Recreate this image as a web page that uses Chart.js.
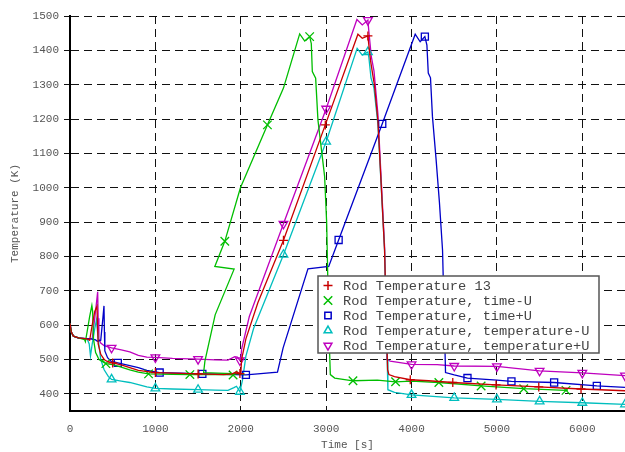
<!DOCTYPE html>
<html>
<head>
<meta charset="utf-8">
<script src="https://cdn.jsdelivr.net/npm/chart.js@4.4.1/dist/chart.umd.min.js"></script>
<style>
  html, body { margin: 0; padding: 0; background: #fff; }
  #rod-chart { display: block; }
</style>
</head>
<body>
<canvas id="rod-chart" width="625" height="452"></canvas>
<script>
// Rod temperature histories [time (s), temperature (K)]
var rodT13 = [
  [0,605],[15,580],[40,568],[100,563],[200,560],[230,556],[260,600],[290,640],[316,655],[322,600],
  [330,545],[360,515],[400,500],[430,495],[500,490],[600,484],[700,476],[800,468],[1000,462],[1200,460],
  [1500,458],[1800,456],[1900,458],[1950,464],[1990,459],[2000,458],[2010,500],[2060,560],[2200,665],[2500,847],
  [2990,1183],[3372,1447],[3423,1435],[3489,1442],[3500,1415],[3520,1370],[3545,1330],[3565,1300],[3606,1195],[3684,819],
  [3710,560],[3720,470],[3735,456],[3800,450],[3985,441],[4200,438],[4483,433],[4990,426],[5490,420],[5985,414],[6500,409]
];
var rodT13Marks = [500,1000,1500,1990,2500,2990,3489,3985,4483,4990,5490,5985];

var timeMinus = [
  [0,605],[15,580],[40,568],[100,563],[170,558],[180,552],[200,580],[230,625],[256,657],[265,640],
  [275,560],[300,520],[340,500],[420,488],[500,485],[600,478],[700,470],[800,463],[920,458],[1200,457],
  [1404,456],[1700,456],[1850,457],[1910,455],[1960,460],[1990,458],[1565,462],[1580,495],[1700,630],[1922,763],
  [1696,771],[1813,844],[1996,1000],[2312,1183],[2500,1290],[2690,1448],[2749,1427],[2807,1440],[2826,1420],[2838,1338],
  [2877,1319],[2904,1197],[2982,1033],[3006,898],[3030,600],[3049,456],[3100,446],[3314,438],[3600,440],[3813,435],
  [4000,437],[4320,433],[4815,423],[5314,415],[5809,410],[5830,410]
];
var timeMinusMarks = [420,920,1404,1910,1813,2312,2807,3314,3813,4320,4815,5314,5809];

var timePlus = [
  [0,605],[15,580],[40,568],[100,562],[250,560],[300,557],[320,553],[360,556],[385,620],[398,656],
  [403,580],[408,525],[440,505],[480,495],[560,490],[700,482],[800,476],[900,468],[1050,462],[1300,460],
  [1550,458],[1800,457],[2060,455],[2200,458],[2430,463],[2496,534],[2787,764],[3030,771],[3146,848],[3657,1186],
  [4043,1447],[4101,1425],[4156,1440],[4180,1415],[4196,1334],[4222,1320],[4245,1207],[4288,1081],[4327,956],[4363,819],
  [4385,600],[4398,462],[4500,455],[4655,446],[5000,440],[5170,436],[5670,433],[6170,423],[6500,419]
];
var timePlusMarks = [560,1050,1550,2060,3146,3657,4156,4655,5170,5670,6170];

var tempMinus = [
  [0,605],[15,580],[40,568],[100,563],[200,560],[225,545],[240,510],[260,545],[290,590],[310,615],
  [330,560],[360,500],[400,470],[450,450],[487,442],[600,437],[700,433],[800,427],[900,420],[1000,416],
  [1200,414],[1500,412],[1700,411],[1850,410],[1920,418],[1950,422],[1990,406],[2020,440],[2060,510],[2150,590],
  [2500,805],[3000,1134],[3363,1406],[3423,1386],[3489,1395],[3500,1380],[3525,1320],[3560,1290],[3606,1185],[3684,819],
  [3715,500],[3723,412],[3800,404],[4000,397],[4500,388],[5000,384],[5500,378],[6000,374],[6500,369]
];
var tempMinusMarks = [487,1000,1500,1990,2500,3000,3489,4000,4500,5000,5500,6000,6500];

var tempPlus = [
  [0,605],[15,580],[40,568],[100,563],[200,560],[260,560],[290,620],[310,665],[324,697],[330,620],
  [338,560],[360,548],[400,540],[487,534],[600,528],[700,522],[800,512],[900,507],[1000,506],[1200,503],
  [1500,501],[1700,499],[1850,498],[1930,508],[1960,507],[1990,497],[2000,500],[2010,530],[2100,625],[2500,895],
  [3000,1230],[3360,1490],[3423,1474],[3489,1488],[3500,1455],[3530,1380],[3560,1340],[3606,1215],[3684,830],[3705,600],
  [3711,500],[3750,495],[4000,486],[4300,485],[4500,481],[5000,480],[5500,467],[6000,461],[6500,453]
];
var tempPlusMarks = [487,1000,1500,1990,2500,3000,3489,4000,4500,5000,5500,6000,6500];

var seriesLabels = [
  'Rod Temperature 13',
  'Rod Temperature, time-U',
  'Rod Temperature, time+U',
  'Rod Temperature, temperature-U',
  'Rod Temperature, temperature+U'
];

var xTicks = [0, 1000, 2000, 3000, 4000, 5000, 6000];
var yTicks = [400, 500, 600, 700, 800, 900, 1000, 1100, 1200, 1300, 1400, 1500];

var monoFont = '"Liberation Mono", "DejaVu Sans Mono", monospace';

function makeSeries(label, points, marks, color, style, radius, rotation)
{
  return {
    label: label,
    data: points.map(function (p) { return {x: p[0], y: p[1]}; }),
    borderColor: color,
    borderWidth: 1.3,
    pointStyle: style,
    pointRotation: rotation || 0,
    pointBorderColor: color,
    pointBackgroundColor: 'rgba(0,0,0,0)',
    pointBorderWidth: 1.3,
    pointRadius: function (ctx) {
      if (!ctx.raw) return 0;
      return marks.indexOf(ctx.raw.x) >= 0 ? radius : 0;
    },
    tension: 0,
    fill: false
  };
}

function plainNumber(value)
{
  return String(value);
}

// legend drawn as a framed box inside the plot
var boxLegend = {
  id: 'boxLegend',
  afterDraw: function (chart) {
    var ctx = chart.ctx;
    var left = 318, top = 276, w = 281, h = 77;
    ctx.save();
    ctx.fillStyle = '#fff';
    ctx.fillRect(left, top, w, h);
    ctx.strokeStyle = '#555';
    ctx.lineWidth = 1.5;
    ctx.strokeRect(left, top, w, h);
    ctx.font = '13.7px ' + monoFont;
    ctx.textBaseline = 'middle';
    chart.data.datasets.forEach(function (ds, i) {
      var cy = top + 9.5 + i * 15;
      ctx.strokeStyle = ds.borderColor;
      ctx.fillStyle = 'rgba(0,0,0,0)';
      ctx.lineWidth = 1.5;
      Chart.helpers.drawPoint(ctx, {
        pointStyle: ds.pointStyle,
        radius: ds.pointStyle === 'crossRot' ? 6 : 4.5,
        rotation: ds.pointRotation,
        borderWidth: 1.5
      }, left + 10, cy);
      ctx.fillStyle = '#444';
      ctx.fillText(ds.label, left + 25, cy + 1);
    });
    ctx.restore();
  }
};

var rodChart = new Chart(document.getElementById('rod-chart'), {
  type: 'line',
  data: {
    datasets: [
      makeSeries(seriesLabels[0], rodT13, rodT13Marks, '#c80000', 'cross', 4.5),
      makeSeries(seriesLabels[1], timeMinus, timeMinusMarks, '#00be00', 'crossRot', 6),
      makeSeries(seriesLabels[2], timePlus, timePlusMarks, '#0000c8', 'rect', 5),
      makeSeries(seriesLabels[3], tempMinus, tempMinusMarks, '#00bebe', 'triangle', 5),
      makeSeries(seriesLabels[4], tempPlus, tempPlusMarks, '#be00be', 'triangle', 5, 180)
    ]
  },
  options: {
    responsive: false,
    devicePixelRatio: 1,
    animation: false,
    events: [],
    layout: { autoPadding: false, padding: { top: 16, right: 0, bottom: 0, left: 0 } },
    plugins: {
      legend: { display: false },
      tooltip: { enabled: false }
    },
    scales: {
      x: {
        type: 'linear',
        min: 0,
        max: 6500,
        afterBuildTicks: function (scale) {
          scale.ticks = xTicks.map(function (v) { return {value: v}; });
        },
        afterFit: function (scale) {
          scale.height = 41;
          scale.paddingRight = 0;
          scale.paddingLeft = 0;
        },
        grid: { color: '#111', lineWidth: 1, drawTicks: false },
        border: { display: true, color: '#000', width: 2, dash: [8, 5] },
        ticks: {
          padding: 11,
          maxRotation: 0,
          color: '#555',
          font: { family: monoFont, size: 11 },
          callback: plainNumber
        },
        title: {
          display: true,
          text: 'Time [s]',
          color: '#555',
          font: { family: monoFont, size: 11 },
          padding: { top: 3, bottom: 0 }
        }
      },
      y: {
        type: 'linear',
        min: 350,
        max: 1500,
        afterBuildTicks: function (scale) {
          scale.ticks = yTicks.map(function (v) { return {value: v}; });
        },
        afterFit: function (scale) {
          scale.width = 70;
          scale.paddingTop = 0;
          scale.paddingBottom = 0;
        },
        grid: { color: '#111', lineWidth: 1, drawTicks: true, tickLength: 6 },
        border: { display: true, color: '#000', width: 2, dash: [8, 5] },
        ticks: {
          padding: 5,
          color: '#555',
          font: { family: monoFont, size: 11 },
          callback: plainNumber
        },
        title: {
          display: true,
          text: 'Temperature (K)',
          color: '#555',
          font: { family: monoFont, size: 11 },
          padding: { top: 8, bottom: 0 }
        }
      }
    }
  },
  plugins: [boxLegend]
});
</script>
</body>
</html>
